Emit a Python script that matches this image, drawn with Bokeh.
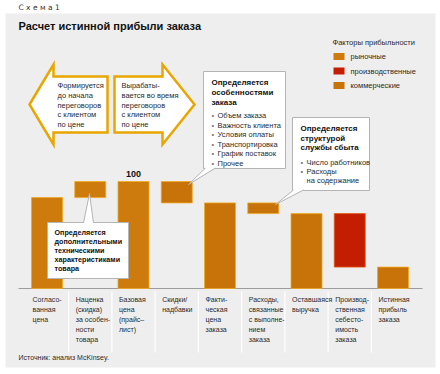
from bokeh.plotting import figure
from bokeh.models import Range1d
from bokeh.core.properties import value
from bokeh.embed import file_html
from bokeh.resources import INLINE

# ---------------- data ----------------
categories = [
    "Согласо-\nванная\nцена",
    "Наценка\n(скидка)\nза особен-\nности\nтовара",
    "Базовая\nцена\n(прайс–\nлист)",
    "Скидки/\nнадбавки",
    "Факти-\nческая\nцена\nзаказа",
    "Расходы,\nсвязанные\nс выполне-\nнием\nзаказа",
    "Оставшаяся\nвыручка",
    "Производ-\nственная\nсебесто-\nимость\nзаказа",
    "Истинная\nприбыль\nзаказа",
]
bar_start = [0, 85, 0, 80, 0, 70, 0, 20, 0]
bar_end = [85, 100, 100, 100, 80, 80, 70, 70, 20]
bar_factor = ["market", "market", "market", "commercial", "commercial",
              "commercial", "commercial", "production", "commercial"]
labelled_bar = 2          # bar that carries its value label ("100")

legend_title = "Факторы прибыльности"
factor_keys = ["market", "production", "commercial"]
factor_labels = ["рыночные", "производственные", "коммерческие"]
factor_colors = ["#cc7b0c", "#c41e02", "#c87309"]

title_text = "Расчет истинной прибыли заказа"
scheme_text = "С х е м а   1"
source_text = "Источник: анализ McKinsey."

arrow_left_lines = ["Формируется", "до начала", "переговоров", "с клиентом", "по цене"]
arrow_right_lines = ["Вырабаты-", "вается во время", "переговоров", "с клиентом", "по цене"]
call1_head = ["Определяется", "особенностями", "заказа"]
call1_items = ["Объем заказа", "Важность клиента", "Условия оплаты",
               "Транспортировка", "График поставок", "Прочее"]
call2_head = ["Определяется", "структурой", "службы сбыта"]
call2_items = ["Число работников", "Расходы"]
call2_cont = "на содержание"
call3_lines = ["Определяется", "дополнительными", "техническими",
               "характеристиками", "товара"]

# ---------------- figure ----------------
W, H = 440, 374
PITCH = 43.25          # px per category
X0 = 46.5              # px of first category center
PX_PER_UNIT = 1.07     # px per value unit
BASE_Y = 288           # px (from top) of zero line

xs = -X0 / PITCH
ys = -(H - BASE_Y) / PX_PER_UNIT
p = figure(width=W, height=H,
           x_range=Range1d(xs, xs + W / PITCH),
           y_range=Range1d(ys, ys + H / PX_PER_UNIT),
           x_axis_type=None, y_axis_type=None,
           toolbar_location=None, output_backend="svg",
           min_border=0, outline_line_color=None,
           background_fill_color="white", border_fill_color="white")
p.extra_x_ranges = {"px": Range1d(0, W)}
p.extra_y_ranges = {"px": Range1d(H, 0)}

FONT = "'Liberation Sans Narrow', 'Arial Narrow', sans-serif"
FONT_B = "'Liberation Sans', Arial, sans-serif"
TXT = "#2b2b2b"


def txt(x, y, s, size="8px", bold=False, color=TXT, align="left",
        baseline="middle", font=FONT):
    p.text(x=[x], y=[y], text=[s], x_range_name="px", y_range_name="px",
           text_font=value(font), text_font_size=size,
           text_font_style="bold" if bold else "normal",
           text_color=color, text_align=align, text_baseline=baseline)


# background panel
p.quad(left=[5], right=[435], top=[13], bottom=[367],
       x_range_name="px", y_range_name="px",
       fill_color="#eeeeee", line_color=None)

txt(18, 7, scheme_text, size="7.5px", color="#333333", font="'DejaVu Sans', sans-serif")
txt(18, 25, title_text, size="11px", bold=True, color="#111111", font=FONT_B)

# legend
txt(332, 42, legend_title, size="7.5px")
for i, (lab, col) in enumerate(zip(factor_labels, factor_colors)):
    cy = 56 + 14.5 * i
    p.quad(left=[333], right=[344], top=[cy - 3.5], bottom=[cy + 3.5],
           x_range_name="px", y_range_name="px", fill_color=col, line_color=None)
    txt(350, cy, lab, size="7.5px")

# column separators under the baseline
idx = list(range(len(categories)))
sep_x = [i + 0.5 for i in idx[:-1]]
p.segment(x0=sep_x, x1=sep_x, y0=[291] * len(sep_x), y1=[352] * len(sep_x),
          y_range_name="px", line_color="white", line_width=1.2)

# baseline
p.segment(x0=[18], x1=[422], y0=[0], y1=[0], x_range_name="px",
          line_color="#9c9c9c", line_width=1)

# bars
cmap = dict(zip(factor_keys, factor_colors))
bar_fill = [cmap[f] for f in bar_factor]
bar_edge = ["#e35a12" if f == "production" else "#efaa22" for f in bar_factor]
p.vbar(x=idx, width=31 / PITCH, bottom=bar_start, top=bar_end,
       fill_color=bar_fill, line_color=bar_edge, line_width=0.8)

# value label
p.text(x=[labelled_bar], y=[bar_end[labelled_bar]],
       text=[str(bar_end[labelled_bar])], y_offset=-5,
       text_font=value(FONT_B), text_font_size="9px", text_font_style="bold",
       text_color="#111111", text_align="center", text_baseline="bottom")

# category labels
lab_x, lab_y, lab_t = [], [], []
for i, c in enumerate(categories):
    for j, line in enumerate(c.split("\n")):
        lab_x.append(i)
        lab_y.append(299 + 10 * j)
        lab_t.append(line)
p.text(x=lab_x, y=lab_y, text=lab_t, y_range_name="px", x_offset=-14.5,
       text_font=value(FONT), text_font_size="7px", text_color=TXT,
       text_align="left", text_baseline="middle")

txt(18, 357, source_text, size="7px")

# ---------------- double arrow ----------------
GOLD = "#e7a600"
p.patch(x=[29, 53, 53, 107, 107, 53, 53],
        y=[104, 64, 76, 76, 132, 132, 144],
        x_range_name="px", y_range_name="px",
        fill_color="white", line_color=GOLD, line_width=2.5, line_join="miter")
p.patch(x=[114, 162, 162, 194, 162, 162, 114],
        y=[76, 76, 64, 104, 144, 132, 132],
        x_range_name="px", y_range_name="px",
        fill_color="white", line_color=GOLD, line_width=2.5, line_join="miter")
for k, (a, b) in enumerate(zip(arrow_left_lines, arrow_right_lines)):
    y = 85 + 9.75 * k
    txt(57, y, a, size="7.5px")
    txt(121, y, b, size="7.5px")

# ---------------- callouts ----------------
BOX = "#b4b4b4"


def callout(l, t, r, b, ptr):
    p.quad(left=[l], right=[r], top=[t], bottom=[b],
           x_range_name="px", y_range_name="px",
           fill_color="white", line_color=BOX, line_width=1)
    (ax, ay), (bx, by), (tx, ty) = ptr
    p.patch(x=[ax, tx, bx], y=[ay, ty, by], x_range_name="px", y_range_name="px",
            fill_color="white", line_color=None)
    p.multi_line(xs=[[ax, tx], [bx, tx]], ys=[[ay, ty], [by, ty]],
                 x_range_name="px", y_range_name="px", line_color=BOX, line_width=1)


callout(203, 71, 285, 168, ((205, 167.5), (215, 167.5), (188, 184)))
for k, s in enumerate(call1_head):
    txt(211, 82 + 10 * k, s, size="8px", bold=True, color="#111111")
for k, s in enumerate(call1_items):
    y = 115 + 9.6 * k
    txt(211, y, "•", size="7.5px", color="#777777")
    txt(217, y, s, size="7.5px")

callout(292, 117, 369, 190, ((293, 189.5), (303, 189.5), (275, 204)))
for k, s in enumerate(call2_head):
    txt(300, 128 + 9.5 * k, s, size="8px", bold=True, color="#111111")
for k, s in enumerate(call2_items):
    y = 162 + 9 * k
    txt(300, y, "•", size="7.5px", color="#777777")
    txt(306, y, s, size="7.5px")
txt(306, 180, call2_cont, size="7.5px")

callout(47, 222, 128, 278, ((83, 222.5), (93, 222.5), (89, 193)))
for k, s in enumerate(call3_lines):
    txt(54, 232 + 9 * k, s, size="7.2px", bold=True, color="#111111")

open("out.html", "w").write(file_html(p, INLINE))
